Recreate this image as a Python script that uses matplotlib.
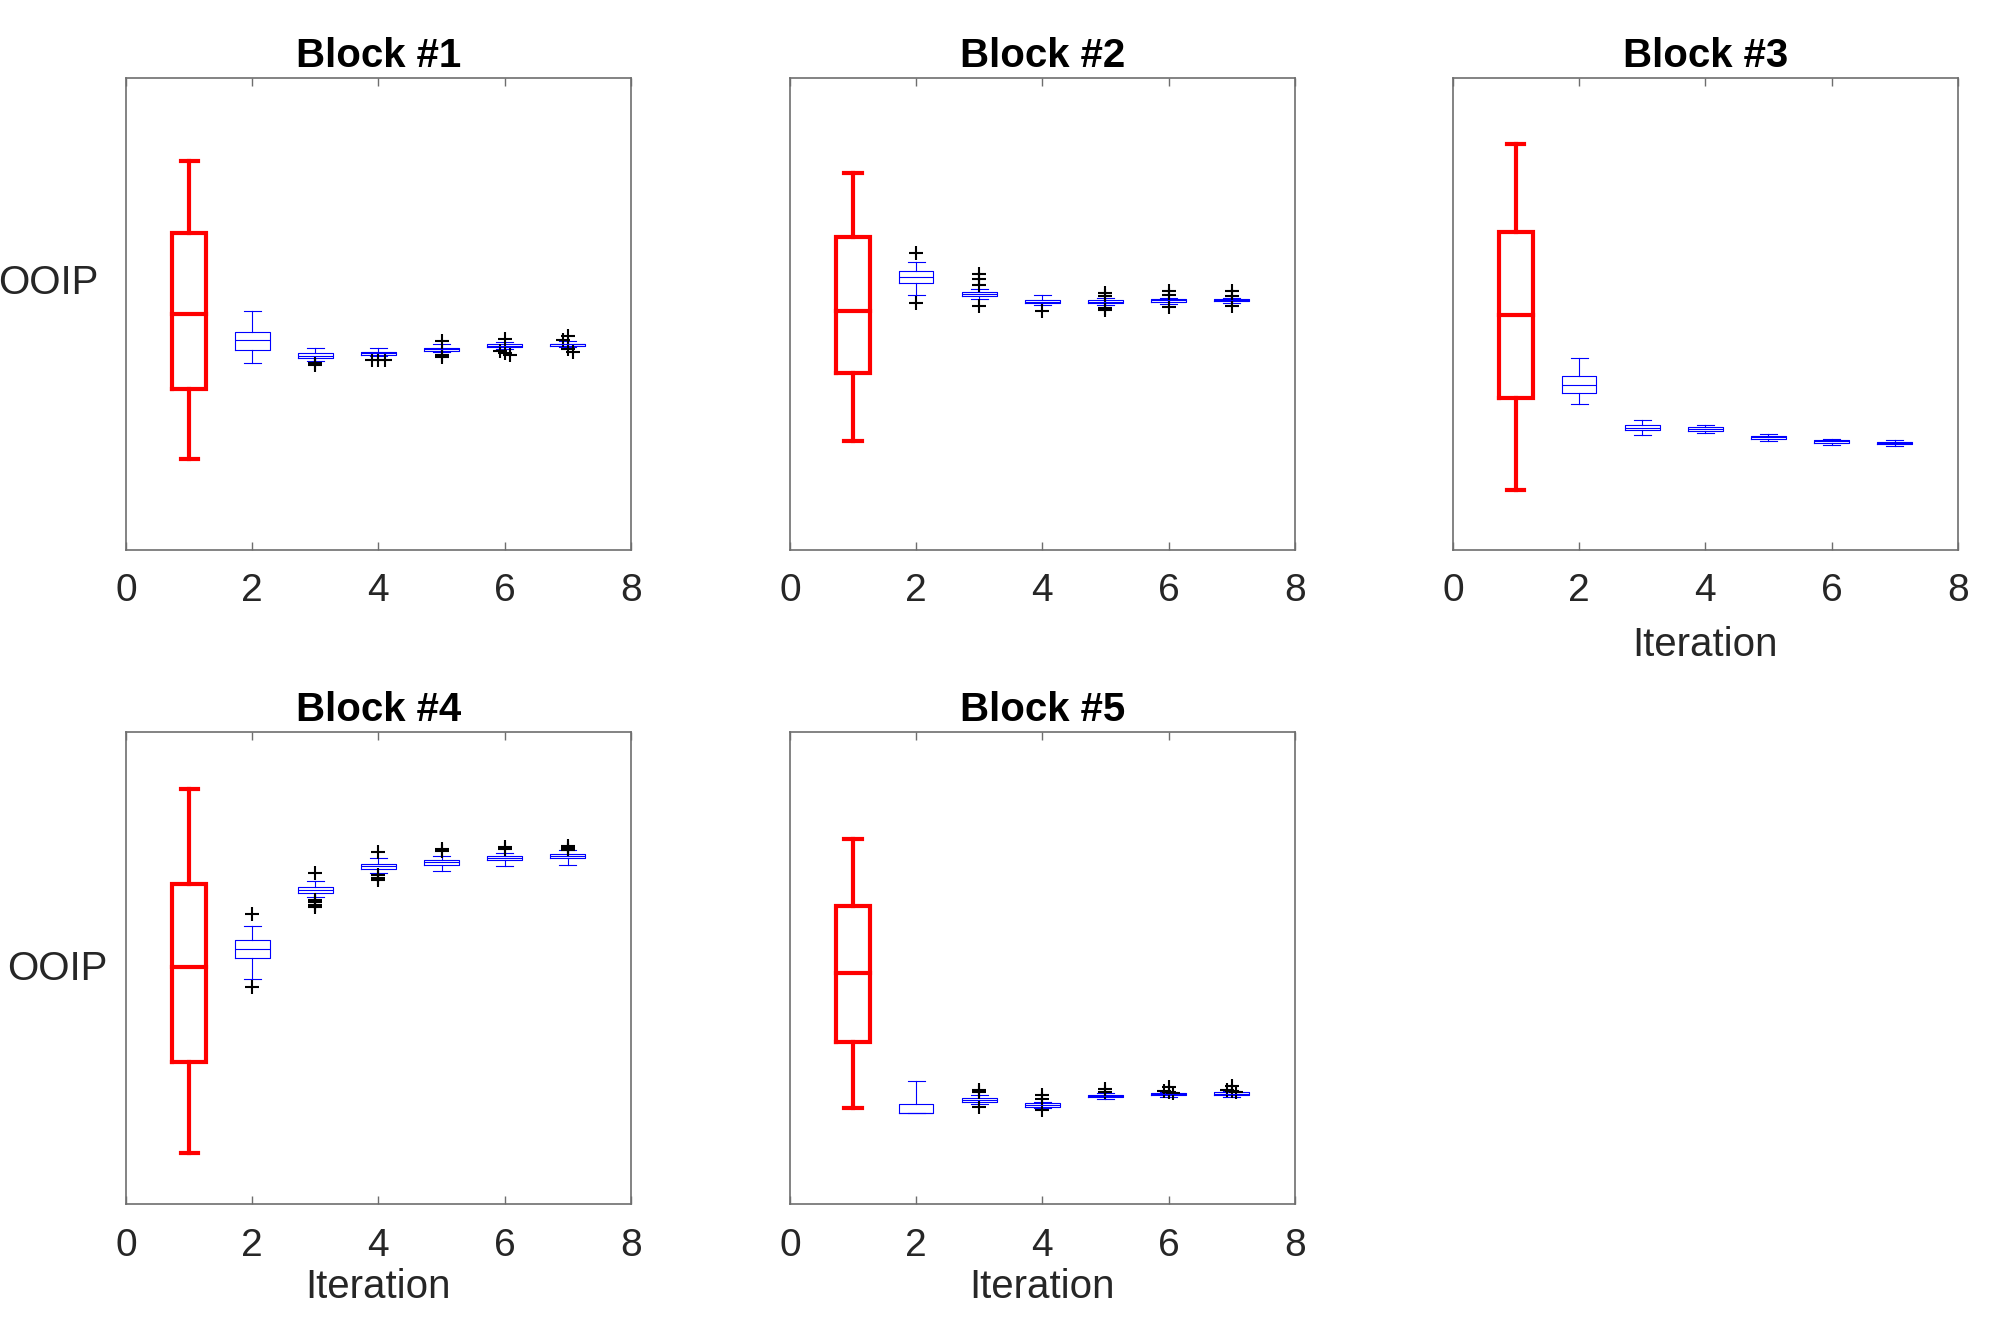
import matplotlib
matplotlib.use("Agg")
import matplotlib.pyplot as plt

plt.rcParams['font.family'] = ['Liberation Sans', 'DejaVu Sans']

titles = ["Block #1", "Block #2", "Block #3", "Block #4", "Block #5"]
iterations = [1, 2, 3, 4, 5, 6, 7]

# box statistics per block (normalised OOIP, 0-100 of axis range)
whishi = [
    [82.4, 50.5, 42.7, 42.8, 43.5, 44.0, 44.2],
    [79.8, 60.9, 55.3, 53.9, 53.4, 53.4, 53.3],
    [86.0, 40.6, 27.4, 26.4, 24.5, 23.5, 23.2],
    [88.1, 59.0, 68.6, 73.4, 73.9, 74.5, 75.0],
    [77.4, 26.2, 23.2, 21.7, 23.5, 23.7, 24.0],
]
q3 = [
    [67.2, 46.2, 41.8, 41.9, 42.8, 43.5, 43.7],
    [66.3, 59.0, 54.7, 53.0, 53.0, 53.1, 53.1],
    [67.4, 36.9, 26.5, 26.0, 24.1, 23.2, 22.9],
    [67.9, 56.1, 67.2, 72.1, 73.0, 73.9, 74.3],
    [63.2, 21.3, 22.5, 21.4, 23.2, 23.5, 23.7],
]
med = [
    [50.0, 44.4, 41.0, 41.6, 42.5, 43.2, 43.5],
    [50.6, 57.7, 54.3, 52.6, 52.6, 52.9, 52.9],
    [49.7, 34.9, 25.9, 25.6, 23.8, 23.0, 22.6],
    [50.3, 54.2, 66.6, 71.7, 72.6, 73.4, 73.9],
    [49.1, 19.3, 22.1, 21.1, 22.9, 23.3, 23.4],
]
q1 = [
    [34.0, 42.3, 40.7, 41.3, 42.2, 42.9, 43.2],
    [37.5, 56.5, 53.7, 52.2, 52.3, 52.6, 52.7],
    [32.2, 33.2, 25.3, 25.2, 23.5, 22.6, 22.4],
    [30.2, 52.3, 65.9, 71.1, 71.9, 72.9, 73.3],
    [34.3, 19.3, 21.7, 20.7, 22.7, 23.1, 23.2],
]
whislo = [
    [19.3, 39.5, 40.0, 41.0, 42.0, 42.6, 42.9],
    [23.1, 53.9, 53.1, 51.8, 51.9, 52.1, 52.3],
    [12.7, 30.8, 24.4, 24.8, 23.0, 22.2, 21.9],
    [10.9, 47.8, 65.1, 70.3, 70.6, 71.6, 72.0],
    [20.3, 19.3, 21.3, 20.3, 22.3, 22.7, 22.8],
]

# outliers: (iteration, value, small horizontal jitter)
fliers = [
    [(3, 39.5, 0), (3, 39.1, 0), (4, 40.3, -0.1), (4, 40.3, 0), (4, 40.3, 0.1),
     (5, 44.2, 0), (5, 41.3, 0), (5, 40.9, 0),
     (6, 44.7, 0), (6, 42.2, -0.08), (6, 41.7, 0), (6, 41.2, 0.08),
     (7, 45.2, 0), (7, 44.4, -0.08), (7, 42.5, 0), (7, 42.0, 0.08)],
    [(2, 62.8, 0), (2, 52.4, 0), (3, 58.5, 0), (3, 57.4, 0), (3, 56.2, 0), (3, 51.6, 0),
     (4, 50.6, 0), (5, 54.5, 0), (5, 53.7, 0), (5, 51.3, 0), (5, 50.9, 0),
     (6, 54.8, 0), (6, 53.9, 0), (6, 51.5, 0), (7, 54.8, 0), (7, 53.8, 0), (7, 51.6, 0)],
    [],
    [(2, 61.5, 0), (2, 46.0, 0), (3, 70.3, 0), (3, 64.5, 0), (3, 64.0, 0), (3, 63.4, 0), (3, 62.9, 0),
     (4, 74.7, 0), (4, 69.7, 0), (4, 69.2, 0), (4, 68.8, 0),
     (5, 75.4, 0), (5, 74.8, 0), (6, 75.8, 0), (6, 75.2, 0),
     (7, 76.0, 0), (7, 75.5, 0), (7, 75.0, 0)],
    [(3, 24.3, 0), (3, 23.7, 0), (3, 20.7, 0), (4, 23.2, 0), (4, 22.3, 0), (4, 19.9, 0),
     (5, 24.4, 0), (5, 23.7, 0),
     (6, 24.8, 0), (6, 24.1, -0.07), (6, 23.5, 0.07), (6, 23.8, 0),
     (7, 25.0, 0), (7, 24.3, -0.07), (7, 23.7, 0.07), (7, 24.0, 0)],
]

fig = plt.figure(figsize=(20.15, 13.44), dpi=100)
lefts = [0.0625, 0.392, 0.721]
w, h = 0.2506, 0.351
bottoms = [0.591, 0.104]
axes_pos = [(lefts[0], bottoms[0]), (lefts[1], bottoms[0]), (lefts[2], bottoms[0]),
            (lefts[0], bottoms[1]), (lefts[1], bottoms[1])]

axis_col = '#6e6e6e'
text_col = '#262626'

for b in range(5):
    ax = fig.add_axes([axes_pos[b][0], axes_pos[b][1], w, h])
    stats = []
    for i in range(7):
        stats.append(dict(med=med[b][i], q1=q1[b][i], q3=q3[b][i],
                          whislo=whislo[b][i], whishi=whishi[b][i], fliers=[]))
    # first iteration in thick red
    red = dict(color='red', linewidth=3.0, solid_capstyle='projecting', solid_joinstyle='miter')
    ax.bxp(stats[:1], positions=iterations[:1], widths=0.55, capwidths=0.27,
           showfliers=False, boxprops=red, whiskerprops=red, capprops=red, medianprops=red)
    blue = dict(color='blue', linewidth=0.8)
    ax.bxp(stats[1:], positions=iterations[1:], widths=0.55, capwidths=0.27,
           showfliers=False, boxprops=blue, whiskerprops=blue, capprops=blue, medianprops=blue)
    if fliers[b]:
        fx = [f[0] + f[2] for f in fliers[b]]
        fy = [f[1] for f in fliers[b]]
        ax.plot(fx, fy, '+', color='black', markersize=10, markeredgewidth=1.5, linestyle='none')

    ax.set_xlim(0, 8)
    ax.set_ylim(0, 100)
    ax.set_xticks([0, 2, 4, 6, 8])
    ax.set_xticklabels(['0', '2', '4', '6', '8'])
    ax.set_yticks([])
    ax.tick_params(axis='x', direction='in', top=True, length=6, width=1, color=axis_col,
                   labelsize=28, labelcolor=text_col, pad=17)
    for s in ax.spines.values():
        s.set_color(axis_col)
        s.set_linewidth(1.2)
    ax.set_title(titles[b], fontsize=29, fontweight='bold', pad=8)
    if b == 2:
        ax.set_xlabel('Iteration', fontsize=29, color=text_col, labelpad=12)
    if b in (3, 4):
        ax.set_xlabel('Iteration', fontsize=29, color=text_col, labelpad=3)
    if b == 0:
        ax.text(-0.055, 0.566, 'OOIP', transform=ax.transAxes, ha='right', va='center',
                fontsize=29, color=text_col)
    if b == 3:
        ax.text(-0.036, 0.498, 'OOIP', transform=ax.transAxes, ha='right', va='center',
                fontsize=29, color=text_col)

fig.savefig('out.png', dpi=100)
